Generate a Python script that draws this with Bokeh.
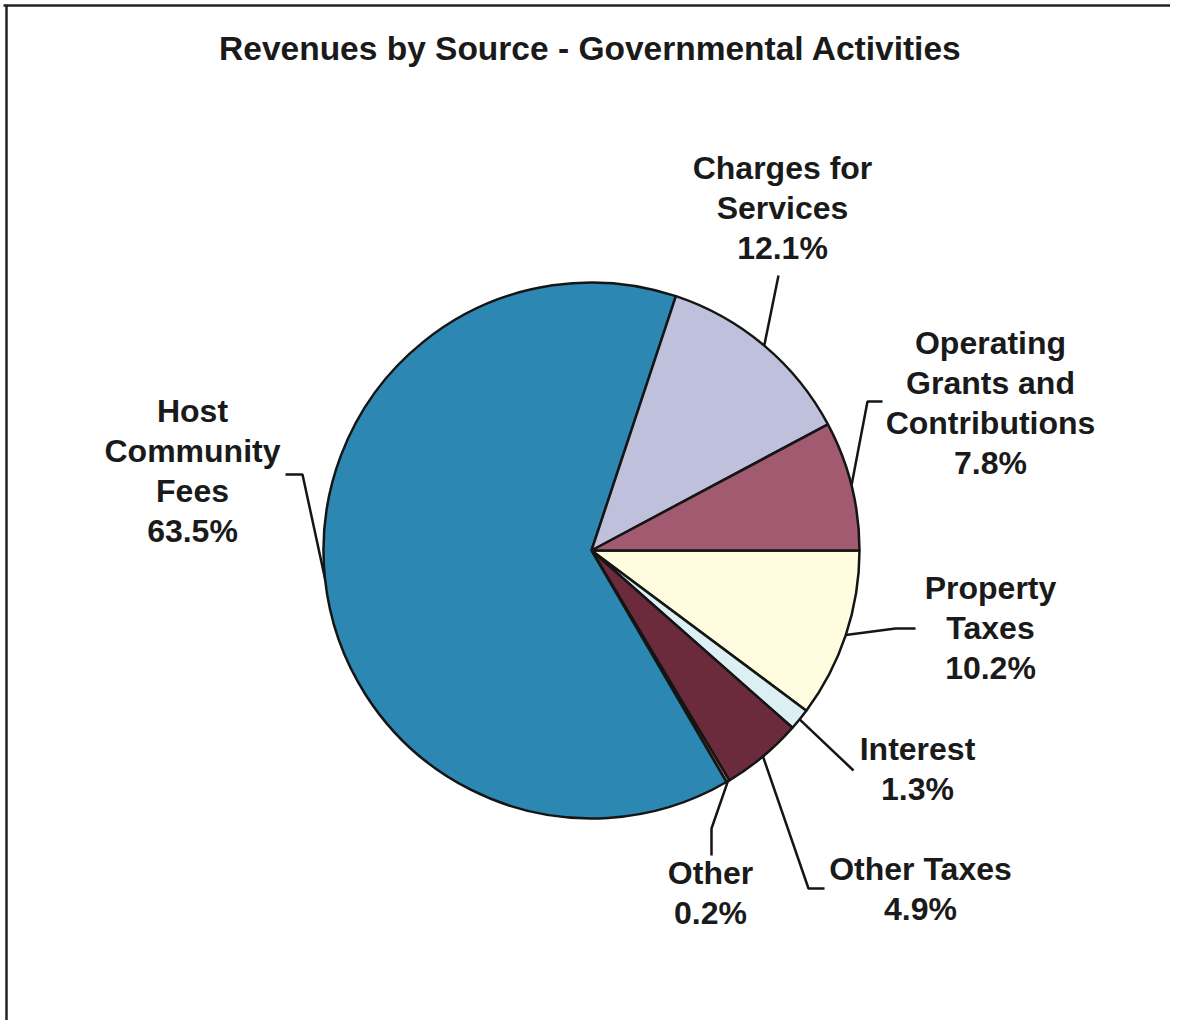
import math
from bokeh.plotting import figure
from bokeh.models import Range1d, ColumnDataSource
from bokeh.core.properties import value
from bokeh.embed import file_html
from bokeh.resources import INLINE

# ---------------- data ----------------
title = "Revenues by Source - Governmental Activities"
categories = ["Property\nTaxes", "Interest", "Other Taxes", "Other",
              "Host\nCommunity\nFees", "Charges for\nServices",
              "Operating\nGrants and\nContributions"]
percents = [10.2, 1.3, 4.9, 0.2, 63.5, 12.1, 7.8]
colors = ["#FFFCE0", "#DCF0F4", "#6B2B3C", "#C77A78", "#2C87B2", "#BFC1DC", "#A15A70"]

# ---------------- layout (screen-pixel positions) ----------------
W, H = 1170, 1020


def sy(y):
    return H - y  # screen y -> data y


CX, CY, R = 591, 550, 268
LINE_STEP = 40
# label centre x, first-line screen y, leader-line points after the arc anchor
label_layout = [
    (990, 587, [(895, 628), (915, 628)]),
    (917, 748, [(853, 770)]),
    (920, 868, [(808, 888), (824, 888)]),
    (710, 872, [(711, 828), (711, 855)]),
    (192, 410, [(302, 474), (285, 474)]),
    (782, 167, [(778, 275)]),
    (990, 342, [(867, 401), (882, 401)]),
]

p = figure(width=W, height=H, output_backend="svg", toolbar_location=None,
           x_range=Range1d(0, W), y_range=Range1d(0, H),
           min_border=0, background_fill_color="white",
           border_fill_color="white")
p.axis.visible = False
p.grid.visible = False
p.outline_line_color = None

# frame lines (top and left, as in the scan)
p.segment(x0=[3, 6], y0=[sy(5), sy(5)], x1=[W, 6], y1=[sy(5), 0],
          line_color="#222222", line_width=2.5)

# wedges
total = sum(percents)
starts, ends, mids = [], [], []
cum = 0.0
for v in percents:
    c0 = cum / total
    c1 = (cum + v) / total
    starts.append(-c1 * 2 * math.pi)
    ends.append(-c0 * 2 * math.pi)
    mids.append(-(c0 + c1) / 2 * 2 * math.pi)
    cum += v

src = ColumnDataSource(dict(start=starts, end=ends, color=colors,
                            x=[CX] * len(percents), y=[sy(CY)] * len(percents)))
p.wedge(x="x", y="y", radius=R, start_angle="start", end_angle="end",
        fill_color="color", line_color="#151515", line_width=2.5, source=src)

# leader lines and labels
lx, ly, lt = [], [], []
for i, (name, v) in enumerate(zip(categories, percents)):
    ax = CX + R * math.cos(mids[i])
    ay = sy(CY) + R * math.sin(mids[i])
    cxl, y0, pts = label_layout[i]
    xs = [ax] + [pt[0] for pt in pts]
    ys = [ay] + [sy(pt[1]) for pt in pts]
    p.line(xs, ys, line_color="#151515", line_width=2.5)
    lines = name.split("\n") + [f"{v:.1f}%"]
    for k, t in enumerate(lines):
        lx.append(cxl)
        ly.append(sy(y0 + k * LINE_STEP))
        lt.append(t)

p.text(x=lx, y=ly, text=lt, text_align="center", text_baseline="middle",
       text_font=value("Liberation Sans"), text_font_style="bold",
       text_font_size="32px", text_color="#1a1a1a")

p.text(x=[590], y=[sy(48)], text=[title], text_align="center",
       text_baseline="middle", text_font=value("Liberation Sans"),
       text_font_style="bold", text_font_size="33.5px", text_color="#1a1a1a")

open("out.html", "w").write(file_html(p, INLINE))
